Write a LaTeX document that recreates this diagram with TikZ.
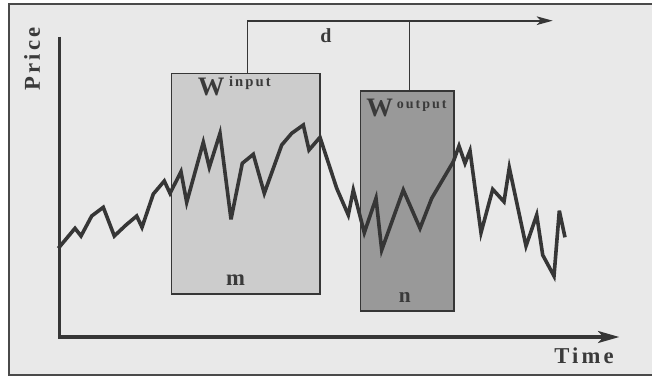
\documentclass[tikz,border=0pt]{standalone}
\usepackage{fontspec}
\setmainfont{Liberation Serif}
\newfontfamily\spacedfont[LetterSpace=14]{Liberation Serif}
\newfontfamily\widefont[LetterSpace=14]{Liberation Serif}
\usetikzlibrary{arrows.meta}
\definecolor{bgc}{HTML}{E9E9E9}
\definecolor{inc}{HTML}{CCCCCC}
\definecolor{outc}{HTML}{999999}
\definecolor{ink}{HTML}{363636}
\definecolor{framec}{HTML}{4A4A4A}
\definecolor{txt}{HTML}{3A3A3A}
\tikzset{
  winbox/.style={draw=ink, line width=1.2pt, inner sep=0pt, anchor=north west},
  lbl/.style={inner sep=0pt, text=txt, font=\bfseries},
  conn/.style={draw=ink, line width=1.2pt},
  axis/.style={draw=ink, line width=2.4pt, line cap=butt, line join=miter},
  price/.style={draw=ink, line width=2.7pt, line join=miter, miter limit=6},
}
\begin{document}
\begin{tikzpicture}[x=0.75pt,y=-0.75pt]
\useasboundingbox (0,0) rectangle (652,376);
\clip (0,0) rectangle (652,376);
\fill[white] (0,0) rectangle (652,376);
\draw[draw=framec, line width=1.6pt, fill=bgc] (9.3,4.3) rectangle (670,374.7);

% windows
\node[winbox, fill=inc, minimum width=111.5pt, minimum height=165.2pt] (inbox) at (170.7,72.7) {};
\node[winbox, fill=outc, minimum width=70pt, minimum height=165.2pt] (outbox) at (359.7,90) {};

% d connector
\coordinate (dtop) at (247.3,20.7);
\coordinate (dend) at (552.7,20.7);
\coordinate (otop) at (409.3,20.7);
\draw[conn, -{Stealth[length=12pt,width=6.5pt,inset=3pt]}] (dtop |- inbox.north) -- (dtop) -- (dend);
\draw[conn] (otop) -- (otop |- outbox.north);

% axes
\coordinate (ytop) at (59.3,36.7);
\coordinate (origin) at (59.3,337);
\coordinate (xend) at (619.3,337);
\draw[axis, -{Stealth[length=16pt,width=9pt,inset=4pt]}] (ytop) -- (origin) -- (xend);

% price series
\draw[price] plot coordinates {
(58.3,248.3) (75,228.3) (81,236) (91.7,216) (103.3,207.3) (114.3,236) (126,225)
(136.7,216) (142,227.3) (153.3,194) (164.3,181) (170,193.3) (181,171.7) (186.7,202.3)
(203.3,142.3) (209.3,167.3) (220,133.3) (231,219.3) (242.3,163.3) (253.3,154.3)
(264.3,193.3) (281.7,145) (291.7,133.3) (303.3,125) (309,150) (320,137.3)
(336.7,188.3) (348.3,215) (353.3,190) (364.3,232.7) (376,198.3) (381.7,250)
(403.3,190) (420,228.3) (431.7,198.3) (453.3,161.7) (459,146) (465,163.3)
(470,150.7) (481,232.7) (492.7,189.3) (504,201.7) (509.3,167.7) (526,246)
(536.7,215) (542.7,255) (554,276) (559.3,210.7) (565,237.3)};

% labels
\node[lbl, anchor=base west] (winlbl) at (197.5,95)
  {\fontsize{20}{20}\selectfont W\hspace{3.5pt}\raisebox{6.5pt}{\fontsize{11}{11}\spacedfont\bfseries input}};
\node[lbl, anchor=base west] (woutlbl) at (366,116)
  {\fontsize{20}{20}\selectfont W\hspace{3pt}\raisebox{6pt}{\fontsize{10.5}{10.5}\spacedfont\bfseries output}};
\node[lbl, anchor=base, font=\bfseries\fontsize{15}{15}\selectfont] (dlbl) at (326,42) {d};
\node[lbl, anchor=base, font=\bfseries\fontsize{17}{17}\selectfont] (mlbl) at (235.5,285) {m};
\node[lbl, anchor=base, font=\bfseries\fontsize{16}{16}\selectfont] (nlbl) at (404.7,302.3) {n};
\node[lbl, anchor=base west] (timelbl) at (554,363) {\fontsize{17}{17}\widefont\bfseries Time};
\node[lbl, rotate=90] (pricelbl) at (32,59) {\fontsize{17}{17}\widefont\bfseries Price};
\end{tikzpicture}
\end{document}
